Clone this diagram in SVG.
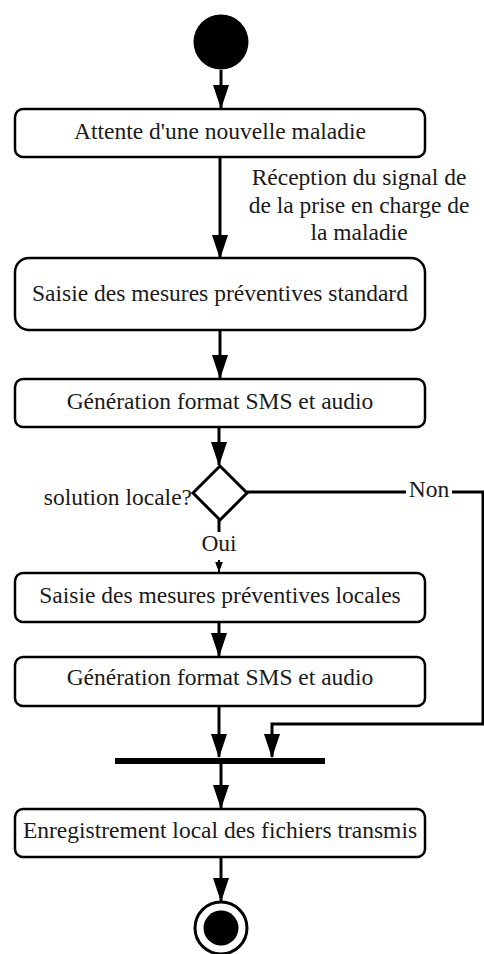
<svg xmlns="http://www.w3.org/2000/svg" width="484" height="954" viewBox="0 0 484 954">
<defs>
<style>
.box{fill:#fff;stroke:#000;stroke-width:2.5}
.t{font-family:'Liberation Serif','DejaVu Serif','Times New Roman',serif;font-size:23.5px;fill:#1a1a1a;text-anchor:middle}
.c{fill:none;stroke:#000;stroke-width:3}
</style>
<marker id="arr" viewBox="0 0 24 16" refX="23" refY="8" markerWidth="24" markerHeight="16" markerUnits="userSpaceOnUse" orient="auto">
<path d="M0,0 L24,8 L0,16 z" fill="#000"/>
</marker>
<marker id="arrs" viewBox="0 0 11 8" refX="10.5" refY="4" markerWidth="11" markerHeight="8" markerUnits="userSpaceOnUse" orient="auto">
<path d="M0,0 L11,4 L0,8 z" fill="#000"/>
</marker>
</defs>
<rect width="484" height="954" fill="#fff"/>
<g id="connectors">
<path class="c" d="M221,70 V108" marker-end="url(#arr)"/>
<path class="c" d="M220,157 V258" marker-end="url(#arr)"/>
<path class="c" d="M220,330 V378" marker-end="url(#arr)"/>
<path class="c" d="M219,427 V465" marker-end="url(#arr)"/>
<path class="c" d="M219,519 V532"/>
<path d="M219,560 V572" stroke="#000" stroke-width="2" marker-end="url(#arrs)"/>
<path class="c" d="M247,492 H483 V724 H272 V757" marker-end="url(#arr)"/>
<path class="c" d="M219,622 V656" marker-end="url(#arr)"/>
<path class="c" d="M219,706 V757" marker-end="url(#arr)"/>
<path class="c" d="M221,764 V808" marker-end="url(#arr)"/>
<path class="c" d="M221,857 V901" marker-end="url(#arr)"/>
<rect x="406" y="478" width="46" height="24" fill="#fff"/>
<text class="t" x="429" y="497" font-family="Liberation Serif, serif">Non</text>
<text class="t" x="219" y="551" font-family="Liberation Serif, serif">Oui</text>
<text class="t" x="359" y="185" font-family="Liberation Serif, serif">Réception  du signal de</text>
<text class="t" x="359" y="213" font-family="Liberation Serif, serif">de la prise en charge de</text>
<text class="t" x="359" y="240" font-family="Liberation Serif, serif">la maladie</text>
</g>
<g id="start"><circle cx="221" cy="42" r="27.5" fill="#000"/></g>
<g id="n1"><rect class="box" x="15" y="109" width="410" height="48" rx="8"/><text class="t" x="220" y="139" font-family="Liberation Serif, serif">Attente d'une nouvelle maladie</text></g>
<g id="n2"><rect class="box" x="15" y="258" width="410" height="72" rx="14"/><text class="t" x="220" y="301" font-family="Liberation Serif, serif">Saisie des mesures préventives standard</text></g>
<g id="n3"><rect class="box" x="15" y="379" width="410" height="48" rx="8"/><text class="t" x="220" y="409" font-family="Liberation Serif, serif">Génération format SMS et audio</text></g>
<g id="decision"><path d="M220,466 L247,493 L220,520 L193,493 z" fill="#fff" stroke="#000" stroke-width="3"/><text class="t" x="192" y="505" font-family="Liberation Serif, serif" style="text-anchor:end">solution locale?</text></g>
<g id="n4"><rect class="box" x="15" y="573" width="410" height="49" rx="8"/><text class="t" x="220" y="603" font-family="Liberation Serif, serif">Saisie des mesures préventives locales</text></g>
<g id="n5"><rect class="box" x="15" y="657" width="410" height="49" rx="8"/><text class="t" x="220" y="685" font-family="Liberation Serif, serif">Génération format SMS et audio</text></g>
<g id="join"><rect x="115" y="758" width="210" height="6" fill="#000"/></g>
<g id="n6"><rect class="box" x="15" y="809" width="410" height="48" rx="8"/><text class="t" x="220" y="838" font-family="Liberation Serif, serif">Enregistrement local des fichiers transmis</text></g>
<g id="end"><circle cx="221" cy="928" r="26" fill="#fff" stroke="#000" stroke-width="3"/><circle cx="221" cy="928" r="17.5" fill="#000"/></g>
</svg>
